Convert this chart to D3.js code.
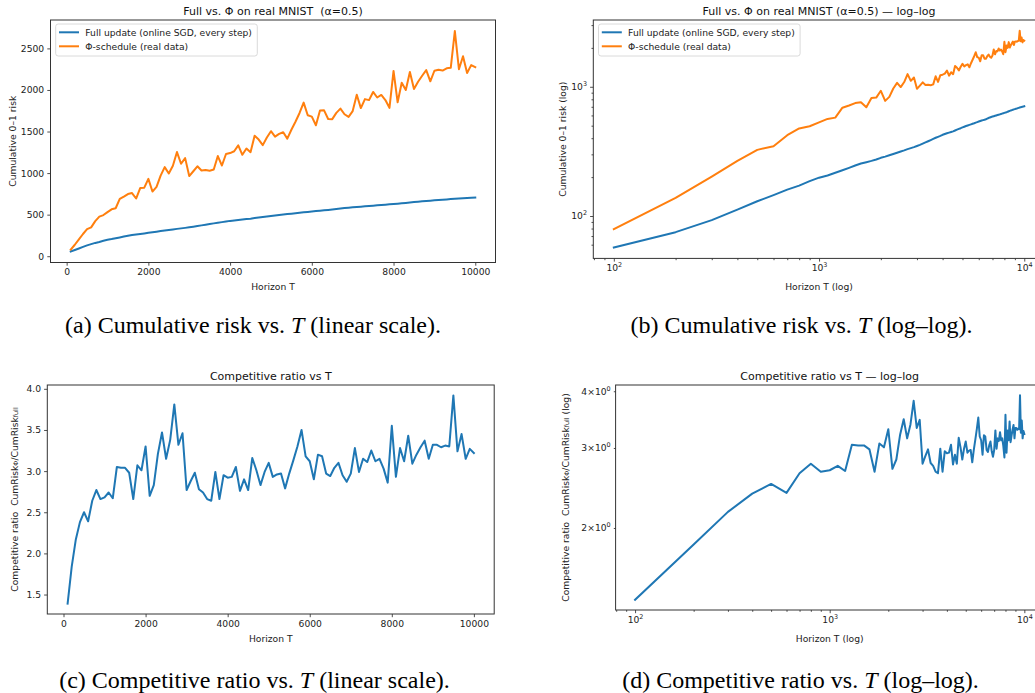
<!DOCTYPE html>
<html>
<head>
<meta charset="utf-8">
<script src="https://cdn.jsdelivr.net/npm/d3@7"></script>
<style>
  body { margin: 0; background: #fff; }
  svg { display: block; }
  text { font-family: "DejaVu Sans", sans-serif; white-space: pre; }
  .caption { font-family: "Liberation Serif", serif; font-size: 24px; fill: #000; }
</style>
</head>
<body>
<svg id="chart" width="1035" height="693"></svg>
<script>
// horizons T (every 100 steps)
const HORIZON = [100,200,300,400,500,600,700,800,900,1000,1100,1200,1300,1400,1500,1600,1700,1800,1900,2000,
  2100,2200,2300,2400,2500,2600,2700,2800,2900,3000,3100,3200,3300,3400,3500,3600,3700,3800,3900,4000,
  4100,4200,4300,4400,4500,4600,4700,4800,4900,5000,5100,5200,5300,5400,5500,5600,5700,5800,5900,6000,
  6100,6200,6300,6400,6500,6600,6700,6800,6900,7000,7100,7200,7300,7400,7500,7600,7700,7800,7900,8000,
  8100,8200,8300,8400,8500,8600,8700,8800,8900,9000,9100,9200,9300,9400,9500,9600,9700,9800,9900,10000]

// cumulative 0-1 risk, full update
const FULL_RISK = [57,75,93,112,130,145,160,172,186,198,206,216,226,236,246,255,261,267,274,282,
  288,295,302,309,316,322,329,335,341,348,355,363,371,379,387,395,403,410,417,425,
  431,437,442,447,452,459,466,472,478,485,491,497,502,507,512,517,522,528,533,538,
  543,548,552,556,561,567,573,579,584,588,592,596,600,604,608,612,616,620,624,628,
  632,636,641,646,651,656,660,664,668,672,676,679,683,687,691,694,697,700,703,706]

// cumulative 0-1 risk, Phi-schedule
const PHI_RISK = [79,138,202,267,325,347,422,476,495,531,564,577,689,717,748,760,694,820,825,931,
  778,835,969,1072,995,1088,1253,1112,1180,964,1022,1082,1031,1038,1029,1043,1205,1091,1230,1241,
  1263,1333,1220,1296,1252,1450,1403,1336,1429,1504,1439,1471,1491,1415,1521,1618,1723,1848,1695,1679,
  1575,1754,1755,1651,1649,1724,1776,1708,1676,1746,1942,1782,1890,1878,1976,1909,1940,1879,1785,2229,
  1852,2086,2000,2216,2012,2099,2171,2238,2104,2231,2244,2234,2261,2267,2709,2249,2405,2205,2299,2273]

// competitive ratio CumRisk_phi / CumRisk_full
const RATIO = [1.39,1.84,2.17,2.38,2.50,2.39,2.64,2.77,2.66,2.68,2.74,2.67,3.05,3.04,3.04,2.98,2.66,3.07,3.01,3.30,
  2.70,2.83,3.21,3.47,3.15,3.38,3.81,3.32,3.46,2.77,2.88,2.98,2.78,2.74,2.66,2.64,2.99,2.66,2.95,2.92,
  2.93,3.05,2.76,2.90,2.77,3.16,3.01,2.83,2.99,3.10,2.93,2.96,2.97,2.79,2.97,3.13,3.30,3.50,3.18,3.12,
  2.90,3.20,3.18,2.97,2.94,3.04,3.10,2.95,2.87,2.97,3.28,2.99,3.15,3.11,3.25,3.12,3.15,3.03,2.86,3.55,
  2.93,3.28,3.12,3.43,3.09,3.20,3.29,3.37,3.15,3.32,3.32,3.29,3.31,3.30,3.92,3.24,3.45,3.15,3.27,3.22]

// ticks
const LIN_X_TICKS = [0, 2000, 4000, 6000, 8000, 10000]
const RISK_TICKS = [0, 500, 1000, 1500, 2000, 2500]
const RATIO_TICKS = [1.5, 2.0, 2.5, 3.0, 3.5, 4.0]
const LOG_X_TICKS = [100, 1000, 10000]
const LOG_X_MINOR = [80,90,200,300,400,500,600,700,800,900,2000,3000,4000,5000,6000,7000,8000,9000]
const LOG_RISK_TICKS = [100, 1000]
const LOG_RISK_MINOR = [60,70,80,90,200,300,400,500,600,700,800,900,2000,3000]
const LOG_RATIO_TICKS = [2, 3, 4]

const SERIES_NAMES = ["Full update (online SGD, every step)", "Φ-schedule (real data)"]
const COLORS = ["#1f77b4", "#ff7f0e"]

const FONT = 9.2
const TICK = 3.2, MINOR = 1.8, PAD = 3.1
const INK = "#222"

const svg = d3.select("#chart")

// matplotlib-like 5% margins
function padDomain(vals, log) {
  let lo = d3.min(vals), hi = d3.max(vals)
  if (log) { lo = Math.log10(lo); hi = Math.log10(hi) }
  const m = (hi - lo) * 0.05
  lo -= m; hi += m
  return log ? [10 ** lo, 10 ** hi] : [lo, hi]
}

// "10^k" style label with a superscript
function supLabel(sel, base, exp) {
  sel.text(null)
  sel.append("tspan").text(base)
  sel.append("tspan").attr("font-size", FONT * 0.7).attr("dy", -4).text(exp)
}

function styleAxis(a) {
  a.attr("font-size", FONT).attr("font-family", "DejaVu Sans").attr("color", INK)
  a.select(".domain").remove()
  a.selectAll(".tick line").attr("stroke-width", 0.8)
}

function panel(p) {
  const b = p.box
  const g = svg.append("g")
  const x = (p.logX ? d3.scaleLog() : d3.scaleLinear())
    .domain(padDomain(HORIZON, p.logX)).range([b.left, b.right])
  const y = (p.logY ? d3.scaleLog() : d3.scaleLinear())
    .domain(padDomain(p.yExtent, p.logY)).range([b.bottom, b.top])

  // x axis
  const xa = g.append("g").attr("transform", `translate(0,${b.bottom})`)
    .call(d3.axisBottom(x).tickValues(p.xTicks).tickSize(TICK).tickPadding(PAD).tickSizeOuter(0)
      .tickFormat(p.logX ? d => "" : d3.format("d")))
  styleAxis(xa)
  if (p.logX) {
    xa.selectAll(".tick text").each(function(d) { supLabel(d3.select(this), "10", Math.round(Math.log10(d))) })
    const xm = g.append("g").attr("transform", `translate(0,${b.bottom})`)
      .call(d3.axisBottom(x).tickValues(LOG_X_MINOR).tickSize(MINOR).tickFormat("").tickSizeOuter(0))
    styleAxis(xm)
  }

  // y axis
  const ya = g.append("g").attr("transform", `translate(${b.left},0)`)
    .call(d3.axisLeft(y).tickValues(p.yTicks).tickSize(p.yMinorOnly ? MINOR : TICK).tickPadding(PAD)
      .tickSizeOuter(0).tickFormat(p.yFormat))
  styleAxis(ya)
  if (p.logY && !p.yMinorOnly) {
    ya.selectAll(".tick text").each(function(d) { supLabel(d3.select(this), "10", Math.round(Math.log10(d))) })
    const ym = g.append("g").attr("transform", `translate(${b.left},0)`)
      .call(d3.axisLeft(y).tickValues(p.yMinor).tickSize(MINOR).tickFormat("").tickSizeOuter(0))
    styleAxis(ym)
  }
  if (p.yMinorOnly) {
    ya.selectAll(".tick text").each(function(d) { supLabel(d3.select(this), d + "×10", "0") })
  }

  // lines
  const line = d3.line().x((d, i) => x(HORIZON[i])).y(d => y(d))
  p.series.forEach((s, k) => {
    g.append("path").attr("d", line(s))
      .attr("fill", "none").attr("stroke", COLORS[k]).attr("stroke-width", 2)
      .attr("stroke-linejoin", "round").attr("stroke-linecap", "square")
  })

  // frame
  g.append("rect").attr("x", b.left).attr("y", b.top)
    .attr("width", b.right - b.left).attr("height", b.bottom - b.top)
    .attr("fill", "none").attr("stroke", "#333").attr("stroke-width", 1)

  // title
  g.append("text").attr("x", (b.left + b.right) / 2).attr("y", b.top - 5.5)
    .attr("text-anchor", "middle").attr("font-size", 11).attr("fill", "#111").text(p.title)

  // axis labels
  g.append("text").attr("x", (b.left + b.right) / 2).attr("y", p.xLabelY)
    .attr("text-anchor", "middle").attr("dominant-baseline", "central")
    .attr("font-size", FONT).attr("fill", INK).text(p.xLabel)
  const yl = g.append("text")
    .attr("transform", `translate(${p.yLabelX},${(b.top + b.bottom) / 2}) rotate(-90)`)
    .attr("text-anchor", "middle").attr("dominant-baseline", "central")
    .attr("font-size", FONT).attr("fill", INK)
  p.yLabel(yl)

  // legend
  if (p.legend) {
    const lg = g.append("g").attr("transform", `translate(${b.left + 5.2},${b.top + 4})`)
    lg.append("rect").attr("width", 201.6).attr("height", 32).attr("rx", 2.5)
      .attr("fill", "#fff").attr("fill-opacity", 0.8).attr("stroke", "#d0d0d0").attr("stroke-width", 0.8)
    SERIES_NAMES.forEach((name, k) => {
      const yy = 8.3 + k * 14
      lg.append("line").attr("x1", 3.3).attr("x2", 23.3).attr("y1", yy).attr("y2", yy)
        .attr("stroke", COLORS[k]).attr("stroke-width", 2)
      lg.append("text").attr("x", 29.6).attr("y", yy).attr("dominant-baseline", "central")
        .attr("font-size", FONT).attr("fill", INK).text(name)
    })
  }
}

const riskAll = FULL_RISK.concat(PHI_RISK)

function ratioLabel(t, tail) {
  t.append("tspan").text("Competitive ratio  CumRisk")
  t.append("tspan").attr("font-size", FONT * 0.7).attr("dy", 2).text("Φ")
  t.append("tspan").attr("dy", -2).text("/CumRisk")
  t.append("tspan").attr("font-size", FONT * 0.7).attr("dy", 2).text("full")
  if (tail) t.append("tspan").attr("dy", -2).text(tail)
}

panel({
  box: { left: 50.5, right: 495.5, top: 20, bottom: 262.5 },
  logX: false, logY: false, yExtent: riskAll,
  xTicks: LIN_X_TICKS, yTicks: RISK_TICKS, yFormat: d3.format("d"),
  series: [FULL_RISK, PHI_RISK], legend: true,
  title: "Full vs. Φ on real MNIST  (α=0.5)",
  xLabel: "Horizon T", xLabelY: 286, yLabelX: 12,
  yLabel: t => t.text("Cumulative 0–1 risk")
})

panel({
  box: { left: 593.3, right: 1044.8, top: 20, bottom: 258.4 },
  logX: true, logY: true, yExtent: riskAll,
  xTicks: LOG_X_TICKS, yTicks: LOG_RISK_TICKS, yMinor: LOG_RISK_MINOR, yFormat: d => "",
  series: [FULL_RISK, PHI_RISK], legend: true,
  title: "Full vs. Φ on real MNIST (α=0.5) — log–log",
  xLabel: "Horizon T (log)", xLabelY: 286, yLabelX: 562,
  yLabel: t => t.text("Cumulative 0–1 risk (log)")
})

panel({
  box: { left: 47.3, right: 494.2, top: 385, bottom: 614 },
  logX: false, logY: false, yExtent: RATIO,
  xTicks: LIN_X_TICKS, yTicks: RATIO_TICKS, yFormat: d3.format(".1f"),
  series: [RATIO], legend: false,
  title: "Competitive ratio vs T",
  xLabel: "Horizon T", xLabelY: 638, yLabelX: 14,
  yLabel: t => ratioLabel(t, null)
})

panel({
  box: { left: 615.6, right: 1043.8, top: 385, bottom: 610 },
  logX: true, logY: true, yMinorOnly: true, yExtent: RATIO,
  xTicks: LOG_X_TICKS, yTicks: LOG_RATIO_TICKS, yFormat: d => "",
  series: [RATIO], legend: false,
  title: "Competitive ratio vs T — log–log",
  xLabel: "Horizon T (log)", xLabelY: 638, yLabelX: 564.5,
  yLabel: t => ratioLabel(t, " (log)")
})

// sub-figure captions
const CAPTIONS = [
  { label: "(a) Cumulative risk vs. ", tail: " (linear scale).", x: 253, y: 333 },
  { label: "(b) Cumulative risk vs. ", tail: " (log–log).", x: 801.5, y: 333 },
  { label: "(c) Competitive ratio vs. ", tail: " (linear scale).", x: 254.5, y: 688 },
  { label: "(d) Competitive ratio vs. ", tail: " (log–log).", x: 800.5, y: 688 }
]
CAPTIONS.forEach(c => {
  const t = svg.append("text").attr("class", "caption").attr("x", c.x).attr("y", c.y).attr("text-anchor", "middle")
  t.append("tspan").text(c.label)
  t.append("tspan").attr("font-style", "italic").text("T")
  t.append("tspan").text(c.tail)
})
</script>
</body>
</html>
